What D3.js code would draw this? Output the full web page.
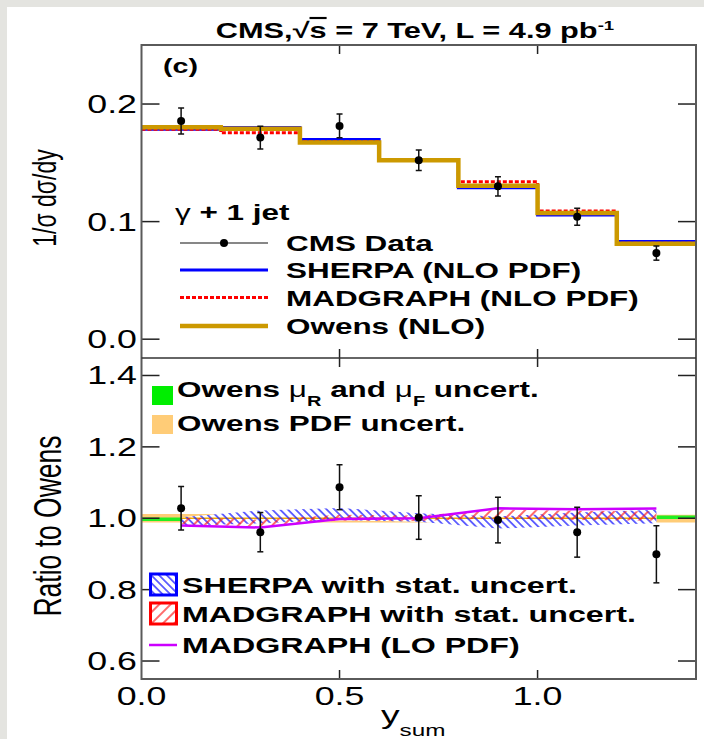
<!DOCTYPE html>
<html>
<head>
<meta charset="utf-8">
<script src="https://cdn.jsdelivr.net/npm/d3@7/dist/d3.min.js"></script>
<style>
  html, body { margin: 0; padding: 0; background: #ffffff; }
  svg { display: block; }
  text { font-family: 'Liberation Sans', Arial, Helvetica, sans-serif; fill: #000; }
</style>
</head>
<body>
<svg id="chart" width="704" height="739"></svg>
<script>
// ---------------- data ----------------
const binEdges   = [0.0, 0.2, 0.4, 0.6, 0.8, 1.0, 1.2, 1.4];
const binCenters = [0.1, 0.3, 0.5, 0.7, 0.9, 1.1, 1.3];

// upper panel: 1/sigma dsigma/dy
const cmsData   = [0.1856, 0.1715, 0.1814, 0.1521, 0.1300, 0.1042, 0.0732];
const cmsErr    = [0.0110, 0.0097, 0.0101, 0.0087, 0.0082, 0.0072, 0.0060];
const owensNLO  = [0.1803, 0.1789, 0.1673, 0.1521, 0.1304, 0.1073, 0.0811];
const sherpaNLO = [0.1786, 0.1800, 0.1699, 0.1521, 0.1287, 0.1056, 0.0831];
const madNLO    = [0.1786, 0.1755, 0.1680, 0.1521, 0.1338, 0.1090, 0.0815];

// lower panel: ratio to Owens
const ratioData   = [1.028, 0.961, 1.087, 1.002, 0.995, 0.961, 0.899];
const ratioErr    = [0.061, 0.055, 0.063, 0.061, 0.064, 0.070, 0.080];
const sherpaRatio = [0.991, 1.004, 1.012, 1.002, 0.988, 0.998, 1.005];
const sherpaStat  = [0.012, 0.018, 0.017, 0.012, 0.017, 0.018, 0.019];
const madRatio    = [0.993, 0.986, 1.002, 1.000, 1.012, 1.008, 1.006];
const madStat     = [0.009, 0.010, 0.008, 0.008, 0.012, 0.013, 0.013];
const madLORatio  = [0.980, 0.974, 0.998, 1.000, 1.028, 1.025, 1.027];
const scaleLo     = [0.992, 0.994, 0.995, 0.996, 0.997, 0.997, 0.998];
const scaleHi     = [1.002, 1.004, 1.005, 1.006, 1.007, 1.007, 1.008];
const pdfLo       = [0.988, 0.988, 0.988, 0.988, 0.988, 0.988, 0.988];
const pdfHi       = [1.012, 1.011, 1.011, 1.010, 1.010, 1.010, 1.010];

// ticks
const xTicks      = [0.0, 0.5, 1.0];
const xTickLabels = ["0.0", "0.5", "1.0"];
const upTicks     = [0.0, 0.1, 0.2];
const upTickLabels= ["0.0", "0.1", "0.2"];
const loTicks     = [0.6, 0.8, 1.0, 1.2, 1.4];
const loTickLabels= ["0.6", "0.8", "1.0", "1.2", "1.4"];

// ---------------- layout ----------------
const SX = 1.43;          // horizontal text stretch of the original
const L = 141.5, R = 696, T = 45, MID = 358, B = 679;
const svg = d3.select("#chart");

// background strip (scanned-page look)
svg.append("rect").attr("x", 0).attr("y", 0).attr("width", 704).attr("height", 739).attr("fill", "#e4e4e0");
svg.append("rect").attr("x", 7).attr("y", 7).attr("width", 697).attr("height", 732).attr("fill", "#ffffff");

const x   = d3.scaleLinear().domain([0, 1.4]).range([L, R]);
const yUp = d3.scaleLinear().domain([-0.016, 0.2502]).range([MID, T]);
const yLo = d3.scaleLinear().domain([0.5496, 1.449]).range([B, MID]);

const defs = svg.append("defs");
defs.append("clipPath").attr("id", "clipUp").append("rect")
  .attr("x", L).attr("y", T).attr("width", R - L).attr("height", MID - T);
defs.append("clipPath").attr("id", "clipLo").append("rect")
  .attr("x", L).attr("y", MID).attr("width", R - L).attr("height", B - MID);

function hatch(id, color, angle, gap, w) {
  const p = defs.append("pattern").attr("id", id).attr("patternUnits", "userSpaceOnUse")
    .attr("width", gap).attr("height", gap).attr("patternTransform", `rotate(${angle})`);
  p.append("line").attr("x1", gap / 2).attr("y1", -1).attr("x2", gap / 2).attr("y2", gap + 1)
    .attr("stroke", color).attr("stroke-width", w);
}
hatch("hBlue", "#1a1aff", -45, 5.5, 1.3);
hatch("hRed", "#ff1a1a", 45, 8, 1.3);

function stext(g, px, py, str, size, weight, anchor) {
  return g.append("text")
    .attr("transform", `translate(${px},${py}) scale(${SX},1)`)
    .attr("text-anchor", anchor || "start")
    .style("font-size", size + "px")
    .style("font-weight", weight || "normal")
    .text(str);
}

// ---------------- upper panel ----------------
const up = svg.append("g").attr("clip-path", "url(#clipUp)");
const stepPts = v => binEdges.map((e, i) => [e, i < v.length ? v[i] : v[v.length - 1]]);
const stepLine = d3.line().x(d => x(d[0])).y(d => yUp(d[1])).curve(d3.curveStepAfter);

up.append("path").attr("d", stepLine(stepPts(sherpaNLO))).attr("fill", "none")
  .attr("stroke", "#0000ff").attr("stroke-width", 3);
up.append("path").attr("d", stepLine(stepPts(madNLO))).attr("fill", "none")
  .attr("stroke", "#ff0000").attr("stroke-width", 3).attr("stroke-dasharray", "4,2");
up.append("path").attr("d", stepLine(stepPts(owensNLO))).attr("fill", "none")
  .attr("stroke", "#cc9900").attr("stroke-width", 4.5);

function dataPoints(g, ys, vals, errs) {
  binCenters.forEach((c, i) => {
    const cx = x(c);
    const y1 = ys(vals[i] + errs[i]), y2 = ys(vals[i] - errs[i]);
    g.append("line").attr("x1", cx).attr("x2", cx).attr("y1", y1).attr("y2", y2)
      .attr("stroke", "#111").attr("stroke-width", 1.5);
    [y1, y2].forEach(yy => g.append("line").attr("x1", cx - 3).attr("x2", cx + 3)
      .attr("y1", yy).attr("y2", yy).attr("stroke", "#111").attr("stroke-width", 1.5));
    g.append("circle").attr("cx", cx).attr("cy", ys(vals[i])).attr("r", 4).attr("fill", "#000");
  });
}
dataPoints(up, yUp, cmsData, cmsErr);

// ---------------- lower panel ----------------
const lo = svg.append("g").attr("clip-path", "url(#clipLo)");
const bandStep = (lowA, highA) => d3.area()
  .x(d => x(d[0])).y0(d => yLo(d[1])).y1(d => yLo(d[2])).curve(d3.curveStepAfter)(
    binEdges.map((e, i) => { const k = Math.min(i, lowA.length - 1); return [e, lowA[k], highA[k]]; }));
lo.append("path").attr("d", bandStep(pdfLo, pdfHi)).attr("fill", "#ffcc77");
lo.append("path").attr("d", bandStep(scaleLo, scaleHi)).attr("fill", "#22ee22");

const bandArea = (c, e) => d3.area().x((d, i) => x(binCenters[i]))
  .y0((d, i) => yLo(c[i] - e[i])).y1((d, i) => yLo(c[i] + e[i]))(c);
lo.append("path").attr("d", bandArea(sherpaRatio, sherpaStat)).attr("fill", "#ffffff");
lo.append("path").attr("d", bandArea(madRatio, madStat)).attr("fill", "#ffffff");
lo.append("line").attr("x1", x(0.1)).attr("x2", x(1.3)).attr("y1", yLo(1.0)).attr("y2", yLo(1.0))
  .attr("stroke", "#f0a800").attr("stroke-width", 1.5);
lo.append("path").attr("d", bandArea(sherpaRatio, sherpaStat)).attr("fill", "url(#hBlue)");
lo.append("path").attr("d", bandArea(madRatio, madStat)).attr("fill", "url(#hRed)");

const loLine = d3.line().x((d, i) => x(binCenters[i])).y(d => yLo(d));
lo.append("path").attr("d", loLine(madLORatio)).attr("fill", "none")
  .attr("stroke", "#cc00ff").attr("stroke-width", 2.5);

dataPoints(lo, yLo, ratioData, ratioErr);

// ---------------- frames & ticks ----------------
const ax = svg.append("g");
const tickLen = 18, xtLen = 9;
upTicks.forEach(t => {
  ax.append("line").attr("x1", L).attr("x2", L + tickLen).attr("y1", yUp(t)).attr("y2", yUp(t)).attr("stroke", "#222").attr("stroke-width", 1.5);
  ax.append("line").attr("x1", R - tickLen).attr("x2", R).attr("y1", yUp(t)).attr("y2", yUp(t)).attr("stroke", "#222").attr("stroke-width", 1.5);
});
loTicks.forEach(t => {
  ax.append("line").attr("x1", L).attr("x2", L + tickLen).attr("y1", yLo(t)).attr("y2", yLo(t)).attr("stroke", "#222").attr("stroke-width", 1.5);
  ax.append("line").attr("x1", R - tickLen).attr("x2", R).attr("y1", yLo(t)).attr("y2", yLo(t)).attr("stroke", "#222").attr("stroke-width", 1.5);
});
xTicks.forEach(t => {
  if (t <= 0) return;
  [[T, T + xtLen], [MID, MID - xtLen], [MID, MID + xtLen], [B, B - xtLen]].forEach(([a, b]) =>
    ax.append("line").attr("x1", x(t)).attr("x2", x(t)).attr("y1", a).attr("y2", b).attr("stroke", "#222").attr("stroke-width", 1.5));
});
ax.append("rect").attr("x", L).attr("y", T).attr("width", R - L).attr("height", B - T)
  .attr("fill", "none").attr("stroke", "#5a5a5a").attr("stroke-width", 2);
ax.append("line").attr("x1", L).attr("x2", R).attr("y1", MID).attr("y2", MID)
  .attr("stroke", "#333").attr("stroke-width", 1.5);

// tick labels
upTicks.forEach((t, i) => stext(ax, 137, yUp(t) + 9, upTickLabels[i], 25, "normal", "end"));
loTicks.forEach((t, i) => stext(ax, 137, yLo(t) + 9, loTickLabels[i], 25, "normal", "end"));
xTicks.forEach((t, i) => stext(ax, x(t), 705, xTickLabels[i], 25, "normal", "middle"));

// axis titles
svg.append("text").attr("transform", `translate(56,198) scale(${SX},1) rotate(-90)`)
  .attr("text-anchor", "middle").style("font-size", "23px").text("1/σ dσ/dy");
svg.append("text").attr("transform", `translate(61,526) scale(${SX},1) rotate(-90)`)
  .attr("text-anchor", "middle").style("font-size", "26.5px").text("Ratio to Owens");
const xt = stext(svg, 381, 724, "", 26, "normal", "start");
xt.append("tspan").text("y");
xt.append("tspan").attr("dy", 12).style("font-size", "17px").text("sum");

// title
const title = stext(svg, 415, 38, "", 21.5, "bold", "middle");
title.append("tspan").text("CMS,√");
title.append("tspan").style("text-decoration", "overline").text("s");
title.append("tspan").text(" = 7 TeV, L = 4.9 pb");
title.append("tspan").attr("dy", -8).style("font-size", "13px").text("-1");

stext(svg, 163, 73, "(c)", 20, "bold");

// ---------------- upper legend ----------------
const lg = svg.append("g");
const gl = stext(lg, 175, 220, "", 22, "bold");
gl.append("tspan").style("font-weight", "normal").text("γ");
gl.append("tspan").text(" + 1 jet");
const legRows = [
  { y: 243, label: "CMS Data", type: "data" },
  { y: 270, label: "SHERPA (NLO PDF)", color: "#0000ff", w: 3 },
  { y: 297.5, label: "MADGRAPH (NLO PDF)", color: "#ff0000", w: 3, dash: "4,2" },
  { y: 326, label: "Owens (NLO)", color: "#cc9900", w: 4.5 }
];
legRows.forEach(r => {
  const ln = lg.append("line").attr("x1", 180).attr("x2", 268).attr("y1", r.y).attr("y2", r.y);
  if (r.type === "data") {
    ln.attr("stroke", "#111").attr("stroke-width", 1.2);
    lg.append("circle").attr("cx", 224).attr("cy", r.y).attr("r", 4).attr("fill", "#000");
  } else {
    ln.attr("stroke", r.color).attr("stroke-width", r.w);
    if (r.dash) ln.attr("stroke-dasharray", r.dash);
  }
  stext(lg, 286, r.y + 8, r.label, 22, "bold");
});

// ---------------- lower legends ----------------
lg.append("rect").attr("x", 152).attr("y", 386).attr("width", 21).attr("height", 19).attr("fill", "#00ee00");
lg.append("rect").attr("x", 152).attr("y", 415).attr("width", 21).attr("height", 19).attr("fill", "#ffcc77");
const t1 = stext(lg, 177, 397, "", 22, "bold");
t1.append("tspan").text("Owens ");
t1.append("tspan").style("font-weight", "normal").text("μ");
t1.append("tspan").attr("dy", 9).style("font-size", "14px").text("R");
t1.append("tspan").attr("dy", -9).text(" and ");
t1.append("tspan").style("font-weight", "normal").text("μ");
t1.append("tspan").attr("dy", 9).style("font-size", "14px").text("F");
t1.append("tspan").attr("dy", -9).text(" uncert.");
stext(lg, 177, 431, "Owens PDF uncert.", 22, "bold");

[[574, "#0000ff", "hBlue", "SHERPA with stat. uncert."],
 [603, "#ff0000", "hRed", "MADGRAPH with stat. uncert."]].forEach(([yy, col, pat, lab]) => {
  lg.append("rect").attr("x", 150.5).attr("y", yy).attr("width", 26).attr("height", 21).attr("fill", "#fff");
  lg.append("rect").attr("x", 150.5).attr("y", yy).attr("width", 26).attr("height", 21)
    .attr("fill", `url(#${pat})`).attr("stroke", col).attr("stroke-width", 3);
  stext(lg, 182, yy + 19, lab, 22.5, "bold");
});
lg.append("line").attr("x1", 149).attr("x2", 177).attr("y1", 645).attr("y2", 645)
  .attr("stroke", "#cc00ff").attr("stroke-width", 2.5);
stext(lg, 182, 653, "MADGRAPH (LO PDF)", 22.5, "bold");
</script>
</body>
</html>
